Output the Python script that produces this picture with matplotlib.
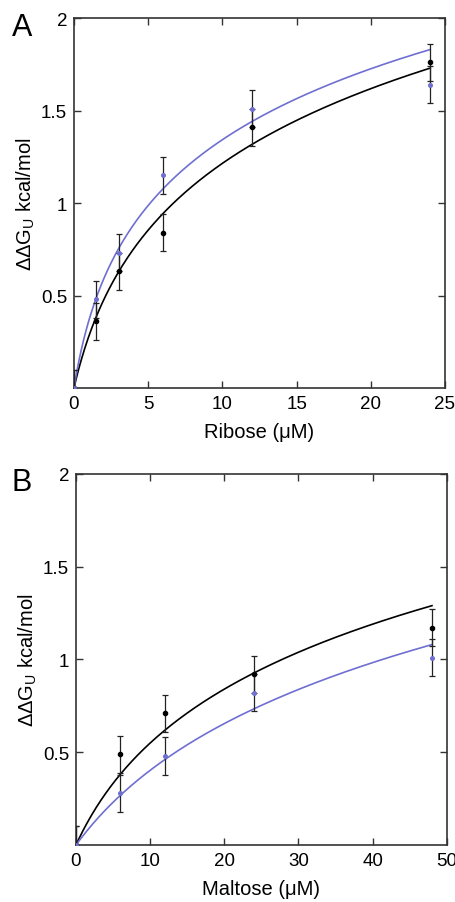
import matplotlib
matplotlib.use("Agg")
import matplotlib.pyplot as plt
import numpy as np

plt.rcParams['font.family'] = ['Liberation Sans', 'DejaVu Sans']
plt.rcParams['mathtext.fontset'] = 'custom'
plt.rcParams['mathtext.rm'] = 'Liberation Sans'
plt.rcParams['mathtext.it'] = 'Liberation Sans:italic'

# panel A - ribose
ribose_x = [0, 1.5, 3, 6, 12, 24]
ribose_black = [0, 0.36, 0.63, 0.84, 1.41, 1.76]
ribose_blue = [0, 0.48, 0.73, 1.15, 1.51, 1.64]
ribose_err = [0.1, 0.1, 0.1, 0.1, 0.1, 0.1]
# fit parameters (a, K) for a*ln(1 + x/K)
ribose_fit_black = (0.662, 1.9)
ribose_fit_blue = (0.601, 1.2)

# panel B - maltose
maltose_x = [0, 6, 12, 24, 48]
maltose_black = [0, 0.49, 0.71, 0.92, 1.17]
maltose_blue = [0, 0.28, 0.48, 0.82, 1.01]
maltose_err = [0.1, 0.1, 0.1, 0.1, 0.1]
maltose_fit_black = (0.637, 7.3)
maltose_fit_blue = (0.685, 12.5)

blue = '#6f6fd2'
ylabel = 'ΔΔG$_\\mathrm{U}$ kcal/mol'

fig = plt.figure(figsize=(4.55, 9.03), dpi=100)
axA = fig.add_axes([0.1626, 0.5692, 0.8154, 0.4097])
axB = fig.add_axes([0.167, 0.0631, 0.815, 0.411])


def draw(ax, xs, yb, yl, err, fit_b, fit_l, xmax, xticks, xlabel):
    xx = np.linspace(0, xs[-1], 300)
    ax.plot(xx, fit_b[0] * np.log(1 + xx / fit_b[1]), color='black', lw=1.2, zorder=3)
    ax.plot(xx, fit_l[0] * np.log(1 + xx / fit_l[1]), color=blue, lw=1.2, zorder=3)
    ax.errorbar(xs, yb, yerr=err, fmt='o', ms=3, color='black', ecolor='#222222',
                elinewidth=0.9, capsize=2.2, capthick=0.9, zorder=4)
    ax.errorbar(xs, yl, yerr=err, fmt='o', ms=2.6, color=blue, ecolor='#222222',
                elinewidth=0.9, capsize=2.2, capthick=0.9, zorder=4)
    ax.set_xlim(0, xmax)
    ax.set_ylim(0, 2)
    ax.set_xticks(xticks)
    ax.set_xticklabels([str(t) for t in xticks])
    ax.set_yticks([0.5, 1, 1.5, 2])
    ax.set_yticklabels(['0.5', '1', '1.5', '2'])
    ax.tick_params(direction='in', top=True, right=True, length=5, width=1,
                   labelsize=13.5, color='#333333', pad=5)
    for s in ax.spines.values():
        s.set_linewidth(1.2)
        s.set_color('#333333')
    ax.set_xlabel(xlabel, fontsize=14.5, labelpad=7)
    ax.set_ylabel(ylabel, fontsize=14.5, labelpad=3)


draw(axA, ribose_x, ribose_black, ribose_blue, ribose_err,
     ribose_fit_black, ribose_fit_blue, 25, [0, 5, 10, 15, 20, 25], 'Ribose (μM)')
draw(axB, maltose_x, maltose_black, maltose_blue, maltose_err,
     maltose_fit_black, maltose_fit_blue, 50, [0, 10, 20, 30, 40, 50], 'Maltose (μM)')

fig.text(0.026, 0.96, 'A', fontsize=22)
fig.text(0.026, 0.456, 'B', fontsize=22)

fig.savefig('out.png', dpi=100)
